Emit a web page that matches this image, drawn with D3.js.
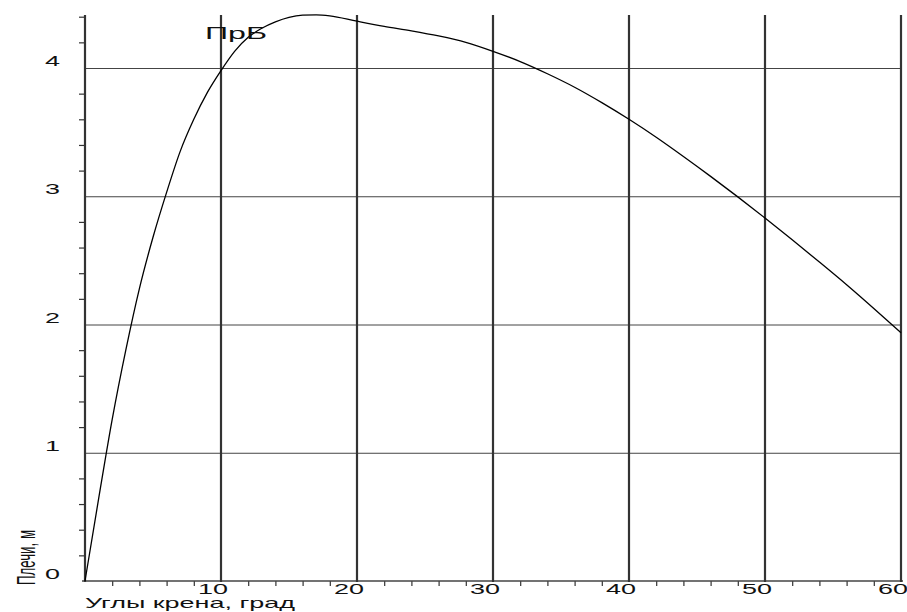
<!DOCTYPE html>
<html><head><meta charset="utf-8">
<script src="https://cdn.jsdelivr.net/npm/d3@7/dist/d3.min.js"></script>
<style>body{margin:0;background:#fff;overflow:hidden}svg{display:block}</style>
</head><body>
<script>
// ---- data ----
const angles = [0,1,2,3,4,5,6,7,8,9,10,11,12,13,14,15,16,17,18,20,22,24,26,28,30,32,34,36,38,40,42,44,46,48,50,52,54,56,58,60];
const arms   = [0,0.64,1.26,1.80,2.28,2.68,3.03,3.35,3.60,3.81,3.98,4.13,4.24,4.31,4.36,4.395,4.412,4.415,4.407,4.365,4.325,4.29,4.25,4.20,4.13,4.05,3.955,3.85,3.73,3.60,3.46,3.31,3.155,2.995,2.83,2.66,2.487,2.31,2.125,1.935];
const xTickValues = [10,20,30,40,50,60];
const xTickLabels = ["10","20","30","40","50","60"];
const yTickValues = [0,1,2,3,4];
const yTickLabels = ["0","1","2","3","4"];
const xTitle = "Углы крена, град";
const yTitle = "Плечи, м";
const curveLabel = "ПрБ";

const W = 907, H = 612;
const svg = d3.select("body").append("svg").attr("width", W).attr("height", H);
const x = d3.scaleLinear().domain([0, 60]).range([85, 901]);
const y = d3.scaleLinear().domain([0, 4]).range([581, 68]);
const topY = 15;
const font = "'Liberation Sans', Arial, sans-serif";

// horizontal grid lines (thin)
svg.append("g").attr("transform", `translate(${x(0)},0)`)
  .call(d3.axisRight(y).tickValues(yTickValues.filter(v => v > 0)).tickSize(x(60) - x(0)).tickFormat(""))
  .call(g => g.select(".domain").remove())
  .selectAll("line").attr("stroke", "#444").attr("stroke-width", 1);

// minor y ticks (left, every 0.2)
const yMinor = d3.range(0, 4.41, 0.2).filter(v => Math.abs(v - Math.round(v)) > 1e-6);
svg.append("g").attr("transform", `translate(${x(0)},0)`)
  .call(d3.axisLeft(y).tickValues(yMinor).tickSize(6).tickFormat(""))
  .call(g => g.select(".domain").remove())
  .selectAll("line").attr("stroke", "#333").attr("stroke-width", 1.2);

// minor x ticks (below, every 2)
const xMinor = d3.range(0, 60.1, 2).filter(v => v % 10 !== 0);
svg.append("g").attr("transform", `translate(0,${y(0)})`)
  .call(d3.axisBottom(x).tickValues(xMinor).tickSize(5).tickFormat(""))
  .call(g => g.select(".domain").remove())
  .selectAll("line").attr("stroke", "#333").attr("stroke-width", 1.2);

// x axis line
svg.append("line").attr("x1", x(0) - 3).attr("x2", x(60) + 2)
  .attr("y1", y(0)).attr("y2", y(0)).attr("stroke", "#444").attr("stroke-width", 1.6);

// vertical grid lines (thick), incl. y axis
svg.append("g").selectAll("line").data([0].concat(xTickValues)).join("line")
  .attr("x1", d => x(d)).attr("x2", d => x(d))
  .attr("y1", topY).attr("y2", y(0) + 1)
  .attr("stroke", "#333").attr("stroke-width", 2.2);

// curve
const line = d3.line().x(d => x(d[0])).y(d => y(d[1])).curve(d3.curveMonotoneX);
svg.append("path").datum(angles.map((a, i) => [a, arms[i]]))
  .attr("d", line).attr("fill", "none").attr("stroke", "#000").attr("stroke-width", 1.3);

// helper: stretched text
function stretched(txt, x0, y0, size, len, rot) {
  const g = svg.append("g").attr("transform", rot
      ? `translate(${x0},${y0}) scale(1.9,1) rotate(-90)`
      : `translate(${x0},${y0})`);
  g.append("text").attr("x", 0).attr("y", 0)
    .attr("font-family", font).attr("font-size", size).attr("fill", "#111")
    .attr("textLength", len).attr("lengthAdjust", "spacingAndGlyphs")
    .text(txt);
}

// y tick labels
yTickValues.forEach((v, i) => stretched(yTickLabels[i], 45, y(v) - 2, 14, 15));
// x tick labels
xTickValues.forEach((v, i) => stretched(xTickLabels[i], x(v) - 23, 594, 14, 30));
// titles
stretched(xTitle, 85, 608, 15, 210);
stretched(yTitle, 35, 585, 14, 55, true);
// curve label
stretched(curveLabel, 205, 39, 16, 62);
</script>
</body></html>
